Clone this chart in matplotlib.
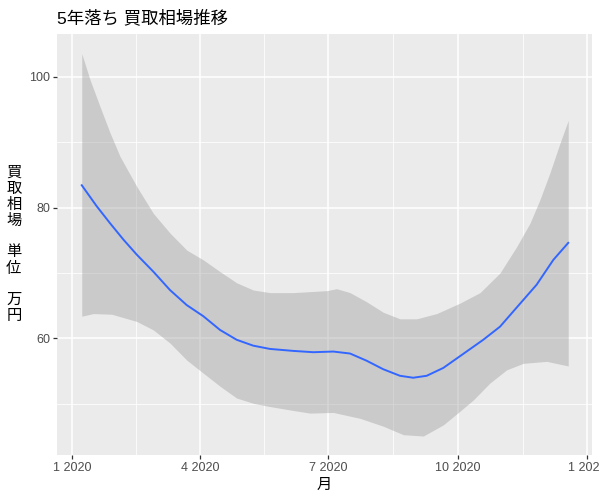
import matplotlib
matplotlib.use('Agg')
import matplotlib.pyplot as plt
import matplotlib.dates as mdates
import numpy as np
import pandas as pd

plt.rcParams['font.family'] = ['Liberation Sans', 'Noto Sans CJK JP']

# smoothed price trend, in days from 2020-01-01
line_days = [6.7, 17.3, 26.8, 36.3, 45.8, 57.6, 69.4, 81.3, 93.1, 105, 116.8, 128.6, 140.5, 157, 171.3,
             185.5, 197.4, 209.2, 221, 232.9, 242.3, 251.9, 263.7, 275.6, 292.1, 304, 318.2, 330, 341.9, 352.5]
line_vals = [83.4, 80.2, 77.6, 75.1, 72.8, 70.2, 67.4, 65.1, 63.4, 61.3, 59.8, 58.9, 58.4, 58.1, 57.9,
             58.0, 57.7, 56.6, 55.3, 54.3, 54.0, 54.3, 55.5, 57.3, 59.8, 61.8, 65.3, 68.2, 72.0, 74.6]

# confidence band edges
upper_days = [6.7, 12.6, 19.7, 26.8, 33.9, 45.8, 57.6, 69.4, 81.3, 93.1, 105, 116.8, 128.6, 140.5, 157, 180.8,
              187.9, 197.4, 209.2, 221, 232.9, 244.8, 259, 275.6, 289.8, 304, 315.8, 325.3, 332.4, 339.5, 346.6, 352.5]
upper_vals = [103.5, 99.5, 95.4, 91.4, 87.8, 83.2, 79.1, 76.1, 73.5, 72.0, 70.2, 68.5, 67.4, 67.0, 67.0, 67.3,
              67.6, 67.0, 65.6, 64.0, 63.0, 63.0, 63.8, 65.4, 67.0, 70.0, 74.0, 77.6, 81.2, 85.3, 89.8, 93.3]

lower_days = [6.7, 14.9, 28, 45.8, 57.6, 69.4, 81.3, 93.1, 105, 116.8, 128.6, 140.5, 157, 168.9, 185.5,
              204.5, 221, 235.3, 249.5, 263.7, 275.6, 285, 296.9, 308.7, 320.5, 337.2, 352.5]
lower_vals = [63.4, 63.8, 63.7, 62.6, 61.3, 59.3, 56.7, 54.7, 52.7, 50.9, 50.1, 49.6, 49.0, 48.6, 48.7,
              47.8, 46.6, 45.3, 45.1, 46.8, 48.9, 50.6, 53.2, 55.2, 56.2, 56.5, 55.8]

tick_dates = ['2020-01-01', '2020-04-01', '2020-07-01', '2020-10-01', '2021-01-01']
tick_labels = ['1 2020', '4 2020', '7 2020', '10 2020', '1 2021']

start = pd.Timestamp('2020-01-01')
to_dates = lambda d: start + pd.to_timedelta(d, unit='D')

# put both band edges on one common set of days
band_days = np.union1d(upper_days, lower_days)
band_hi = np.interp(band_days, upper_days, upper_vals)
band_lo = np.interp(band_days, lower_days, lower_vals)

fig = plt.figure(figsize=(6, 5), dpi=100)
ax = fig.add_axes([57/600, 1-455/500, 535/600, 421/500])
ax.set_facecolor('#EBEBEB')

ax.fill_between(to_dates(band_days), band_lo, band_hi, color='#999999', alpha=0.4, lw=0, zorder=2)
ax.plot(to_dates(np.array(line_days)), line_vals, color='#3366FF', lw=1.4, zorder=3)

x0 = mdates.date2num(to_dates(-10.9))
x1 = mdates.date2num(to_dates(369.4))
ax.set_xlim(x0, x1)
ax.set_ylim(42.2, 106.5)

major = mdates.date2num(pd.to_datetime(tick_dates))
ax.set_xticks(major)
ax.set_xticklabels(tick_labels)
ax.set_xticks((major[:-1] + major[1:]) / 2, minor=True)
ax.set_yticks([60, 80, 100])
ax.set_yticks([50, 70, 90], minor=True)

ax.grid(which='major', color='white', lw=1.1, zorder=1)
ax.grid(which='minor', color='white', lw=0.55, zorder=1)
ax.set_axisbelow(True)
for s in ax.spines.values():
    s.set_visible(False)

ax.tick_params(which='major', length=3, width=0.9, color='#333333', labelcolor='#4D4D4D', labelsize=9, pad=2)
ax.tick_params(which='minor', length=0)

ax.set_xlabel('月', fontsize=11, labelpad=3)
ax.set_ylabel('買\n取\n相\n場\n\n単\n位\n\n万\n円', rotation=0, fontsize=11,
              va='center', ha='center', linespacing=1.17, labelpad=11)
ax.set_title('5年落ち 買取相場推移', loc='left', fontsize=12.5, pad=8)

plt.savefig('out.png', dpi=100)
